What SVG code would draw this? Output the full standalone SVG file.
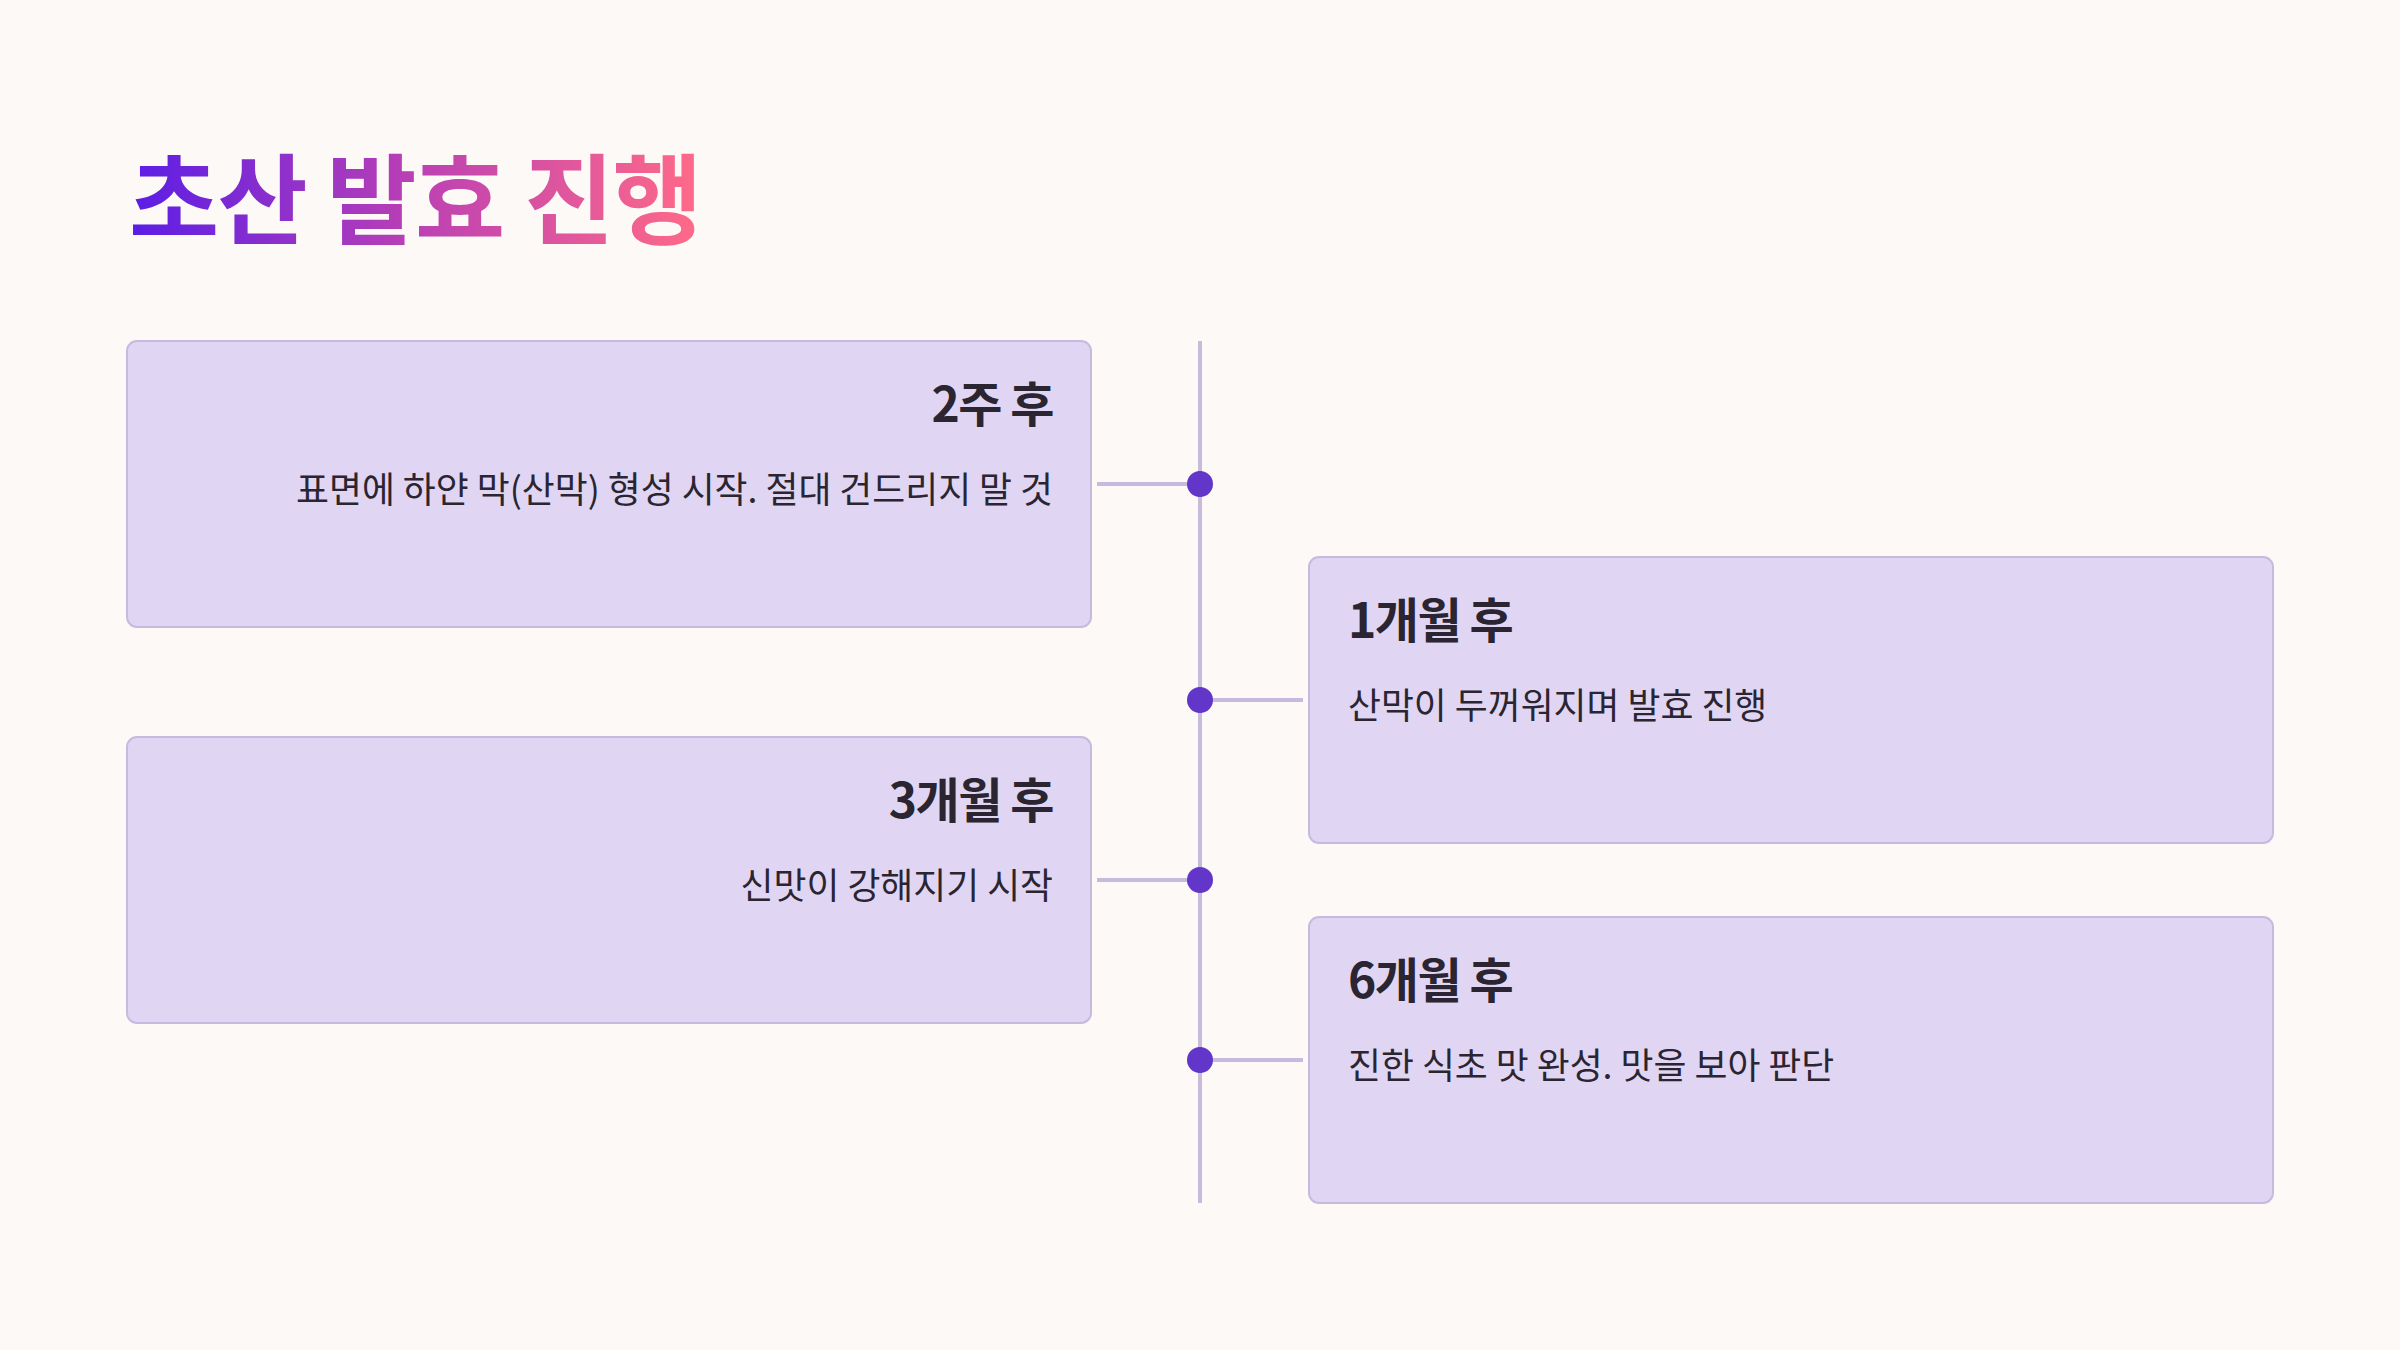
<svg xmlns="http://www.w3.org/2000/svg" width="2400" height="1350" viewBox="0 0 2400 1350">
  <defs>
    <linearGradient id="titleGrad" gradientUnits="userSpaceOnUse" x1="129" y1="0" x2="699" y2="0">
      <stop offset="0" stop-color="#5a1de6"/>
      <stop offset="0.5" stop-color="#bb40b4"/>
      <stop offset="1" stop-color="#ff6a88"/>
    </linearGradient>
  </defs>
  <style>
    .card { fill: #e0d6f4; stroke: #c6bade; stroke-width: 2; }
    .ttl { font-family: "Noto Sans CJK KR", sans-serif; font-weight: 700; font-size: 48px; letter-spacing: -1.5px; fill: #2a2530; }
    .desc { font-family: "Noto Sans CJK KR", sans-serif; font-size: 35.8px; fill: #2a2530; }
    .conn { stroke: #c6bade; stroke-width: 4; fill: none; }
    .dot { fill: #6236c8; }
  </style>
  <rect x="0" y="0" width="2400" height="1350" fill="#fdf9f6"/>

  <text id="title" x="129" y="236" font-family="'Noto Sans CJK KR', sans-serif" font-weight="700" font-size="98" letter-spacing="-1.7" fill="url(#titleGrad)">초산 발효 진행</text>

  <g id="connectors">
    <line class="conn" x1="1200" y1="341" x2="1200" y2="1203"/>
    <line class="conn" x1="1097" y1="484" x2="1200" y2="484"/>
    <line class="conn" x1="1200" y1="700" x2="1303" y2="700"/>
    <line class="conn" x1="1097" y1="880" x2="1200" y2="880"/>
    <line class="conn" x1="1200" y1="1060" x2="1303" y2="1060"/>
    <circle class="dot" cx="1200" cy="484" r="13"/>
    <circle class="dot" cx="1200" cy="700" r="13"/>
    <circle class="dot" cx="1200" cy="880" r="13"/>
    <circle class="dot" cx="1200" cy="1060" r="13"/>
  </g>

  <g id="node-2weeks">
    <rect class="card" x="127" y="341" width="964" height="286" rx="10"/>
    <text class="ttl" x="1053" y="422" text-anchor="end">2주 후</text>
    <text class="desc" x="1053" y="503" text-anchor="end">표면에 하얀 막(산막) 형성 시작. 절대 건드리지 말 것</text>
  </g>

  <g id="node-1month">
    <rect class="card" x="1309" y="557" width="964" height="286" rx="10"/>
    <text class="ttl" x="1348" y="638">1개월 후</text>
    <text class="desc" x="1348" y="719">산막이 두꺼워지며 발효 진행</text>
  </g>

  <g id="node-3months">
    <rect class="card" x="127" y="737" width="964" height="286" rx="10"/>
    <text class="ttl" x="1053" y="818" text-anchor="end">3개월 후</text>
    <text class="desc" x="1053" y="899" text-anchor="end">신맛이 강해지기 시작</text>
  </g>

  <g id="node-6months">
    <rect class="card" x="1309" y="917" width="964" height="286" rx="10"/>
    <text class="ttl" x="1348" y="998">6개월 후</text>
    <text class="desc" x="1348" y="1079">진한 식초 맛 완성. 맛을 보아 판단</text>
  </g>
</svg>
